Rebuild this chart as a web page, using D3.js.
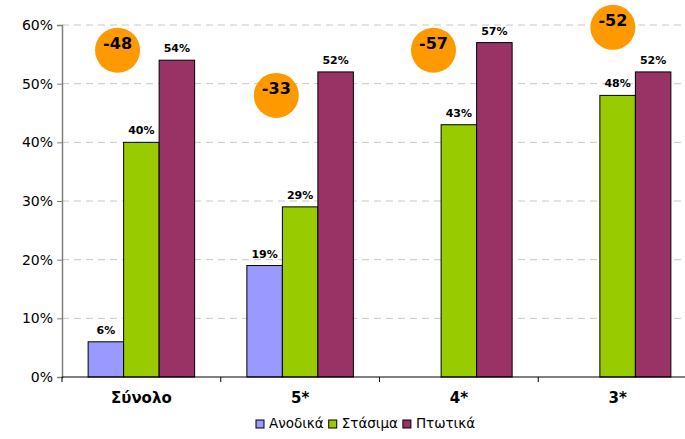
<!DOCTYPE html>
<html>
<head>
<meta charset="utf-8">
<script src="https://cdn.jsdelivr.net/npm/d3@7/dist/d3.min.js"></script>
<style>
body { margin: 0; background: #fff; }
text { font-family: "DejaVu Sans", Verdana, sans-serif; }
</style>
</head>
<body>
<div id="chart"></div>
<script>
// chart data
var categories = ["Σύνολο", "5*", "4*", "3*"];
var seriesNames = ["Ανοδικά", "Στάσιμα", "Πτωτικά"];
var anodika = [6, 19, null, null];
var stasima = [40, 29, 43, 48];
var ptotika = [54, 52, 57, 52];
var balance = [-48, -33, -57, -52];
var balanceLevel = [55.7, 48, 55.7, 59.6];   // where the bubble sits, in % units
var balanceShift = [-0.15, -0.15, -0.16, -0.03]; // share of the category width
var yTicks = [0, 10, 20, 30, 40, 50, 60];

var svgWidth = 685, svgHeight = 439;
var padding = {"top": 25, "left": 62, "bottom": 62, "right": -12};
var colors = ["#9999FF", "#99CC00", "#993366"];

var svg = d3.select("#chart").append("svg")
	.attr("width", svgWidth)
	.attr("height", svgHeight);

var xScale = d3.scaleBand().domain(categories)
	.range([padding.left, svgWidth - padding.right]);
var yScale = d3.scaleLinear().domain([0, 60])
	.range([svgHeight - padding.bottom, padding.top]);
var barW = 35.5;
var inner = d3.scaleBand().domain([0, 1, 2])
	.range([-barW * 1.5, barW * 1.5]);

// gridlines
svg.append("g").selectAll("line")
	.data(yTicks.filter(function(d) { return d > 0; }))
	.enter().append("line")
	.attr("x1", padding.left).attr("x2", svgWidth)
	.attr("y1", function(d) { return yScale(d); })
	.attr("y2", function(d) { return yScale(d); })
	.attr("stroke", "#c8c8c8")
	.attr("stroke-dasharray", "7,5");

// bars
var series = [anodika, stasima, ptotika];
series.forEach(function(vals, si) {
	var g = svg.append("g");
	categories.forEach(function(c, ci) {
		var v = vals[ci];
		if (v === null) return;
		var x = xScale(c) + xScale.bandwidth() / 2 + inner(si);
		g.append("rect")
			.attr("x", x)
			.attr("y", yScale(v))
			.attr("width", inner.bandwidth())
			.attr("height", yScale(0) - yScale(v))
			.attr("fill", colors[si])
			.attr("stroke", "#000")
			.attr("stroke-width", 1);
		g.append("text")
			.attr("x", x + inner.bandwidth() / 2)
			.attr("y", yScale(v) - 8)
			.attr("text-anchor", "middle")
			.attr("font-size", 11)
			.attr("font-weight", "bold")
			.text(v + "%");
	});
});

// bubbles
categories.forEach(function(c, ci) {
	var cx = xScale(c) + xScale.bandwidth() / 2 + balanceShift[ci] * xScale.bandwidth();
	var cy = yScale(balanceLevel[ci]);
	svg.append("circle")
		.attr("cx", cx).attr("cy", cy).attr("r", 22.5)
		.attr("fill", "#FF9900");
	svg.append("text")
		.attr("x", cx).attr("y", cy - 1)
		.attr("text-anchor", "middle")
		.attr("font-size", 16)
		.attr("font-weight", "bold")
		.text(balance[ci]);
});

// y axis
var yAxis = d3.axisLeft(yScale).tickValues(yTicks)
	.tickFormat(function(d) { return d + "%"; })
	.tickSize(5).tickPadding(4);
var gy = svg.append("g")
	.attr("transform", "translate(" + padding.left + ",0)")
	.call(yAxis);
gy.select(".domain").attr("stroke", "#808080").attr("stroke-width", 1.5);
gy.selectAll(".tick line").attr("stroke", "#808080");
gy.selectAll("text").attr("font-size", 14).attr("fill", "#000")
	.style("font-family", "DejaVu Sans");

// x axis
var bounds = categories.map(function(c) { return xScale(c); });
bounds.push(xScale(categories[3]) + xScale.bandwidth());
var gx = svg.append("g");
gx.append("line")
	.attr("x1", padding.left).attr("x2", svgWidth)
	.attr("y1", yScale(0)).attr("y2", yScale(0))
	.attr("stroke", "#000").attr("stroke-width", 1);
gx.selectAll(".tk").data(bounds).enter().append("line")
	.attr("x1", function(d) { return d; }).attr("x2", function(d) { return d; })
	.attr("y1", yScale(0)).attr("y2", yScale(0) + 5)
	.attr("stroke", "#000");
gx.selectAll(".lbl").data(categories).enter().append("text")
	.attr("x", function(d) { return xScale(d) + xScale.bandwidth() / 2; })
	.attr("y", yScale(0) + 26)
	.attr("text-anchor", "middle")
	.attr("font-size", 15)
	.attr("font-weight", "bold")
	.text(function(d) { return d; });

// legend
var legend = svg.append("g").attr("transform", "translate(256,428)");
var lx = 0;
seriesNames.forEach(function(n, i) {
	legend.append("rect")
		.attr("x", lx).attr("y", -8)
		.attr("width", 8).attr("height", 8)
		.attr("fill", colors[i]).attr("stroke", "#000");
	var t = legend.append("text")
		.attr("x", lx + 13).attr("y", 0)
		.attr("font-size", 13.5)
		.text(n);
	lx += 13 + t.node().getComputedTextLength() + 5;
});
</script>
</body>
</html>
